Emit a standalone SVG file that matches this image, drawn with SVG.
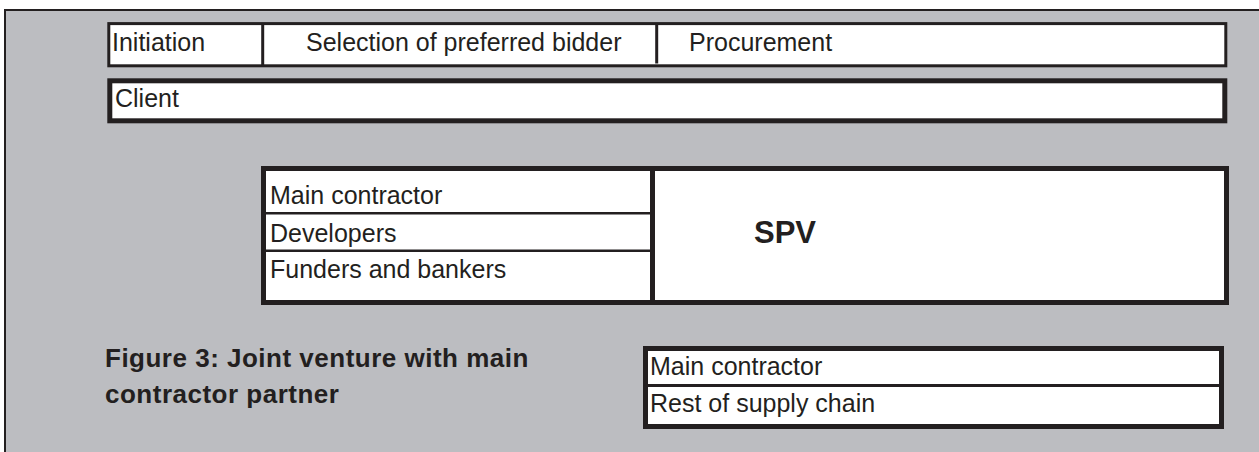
<svg xmlns="http://www.w3.org/2000/svg" width="1259" height="452" viewBox="0 0 1259 452">
<style>
.box{fill:#ffffff;stroke:#231f20}
.ln{stroke:#231f20;fill:none}
.t{font-family:"Liberation Sans",Arial,sans-serif;font-size:25px;fill:#231f20}
.b{font-family:"Liberation Sans",Arial,sans-serif;font-weight:bold;fill:#231f20}
.cap{font-size:26px;letter-spacing:0.5px}
</style>
<rect x="0" y="0" width="1259" height="452" fill="#ffffff"/>
<rect id="frame" x="5" y="10" width="1300" height="500" fill="#bcbdc1" stroke="#231f20" stroke-width="2"/>
<g id="phases">
<rect class="box" x="108.8" y="23.6" width="1117" height="42.2" stroke-width="3"/>
<line class="ln" x1="262.7" y1="23" x2="262.7" y2="66" stroke-width="3"/>
<line class="ln" x1="656.7" y1="23" x2="656.7" y2="63.5" stroke-width="3"/>
<text class="t" x="112" y="51">Initiation</text>
<text class="t" x="306" y="51">Selection of preferred bidder</text>
<text class="t" x="689" y="51">Procurement</text>
</g>
<g id="client">
<rect class="box" x="109.8" y="80.8" width="1115" height="40" stroke-width="5"/>
<text class="t" x="115" y="107">Client</text>
</g>
<g id="jv">
<rect class="box" x="263.5" y="168.5" width="963" height="134" stroke-width="5"/>
<text class="t" x="270" y="204">Main contractor</text>
<text class="t" x="270" y="241.5">Developers</text>
<text class="t" x="270" y="278">Funders and bankers</text>
</g>
<g id="spv">
<text class="b" x="754" y="243" font-size="31">SPV</text>
</g>
<g id="supply">
<rect class="box" x="645.5" y="348.5" width="576" height="78" stroke-width="5"/>
<text class="t" x="650" y="375">Main contractor</text>
<text class="t" x="650" y="411.5">Rest of supply chain</text>
</g>
<g id="connectors">
<line class="ln" x1="652.5" y1="166" x2="652.5" y2="305" stroke-width="5"/>
<line class="ln" x1="265" y1="213.3" x2="650" y2="213.3" stroke-width="2.5"/>
<line class="ln" x1="265" y1="250.7" x2="650" y2="250.7" stroke-width="2.5"/>
<line class="ln" x1="646" y1="385.5" x2="1222" y2="385.5" stroke-width="3"/>
</g>
<g id="caption">
<text class="b cap" x="105" y="366.5">Figure 3: Joint venture with main</text>
<text class="b cap" x="105" y="403">contractor partner</text>
</g>
</svg>
